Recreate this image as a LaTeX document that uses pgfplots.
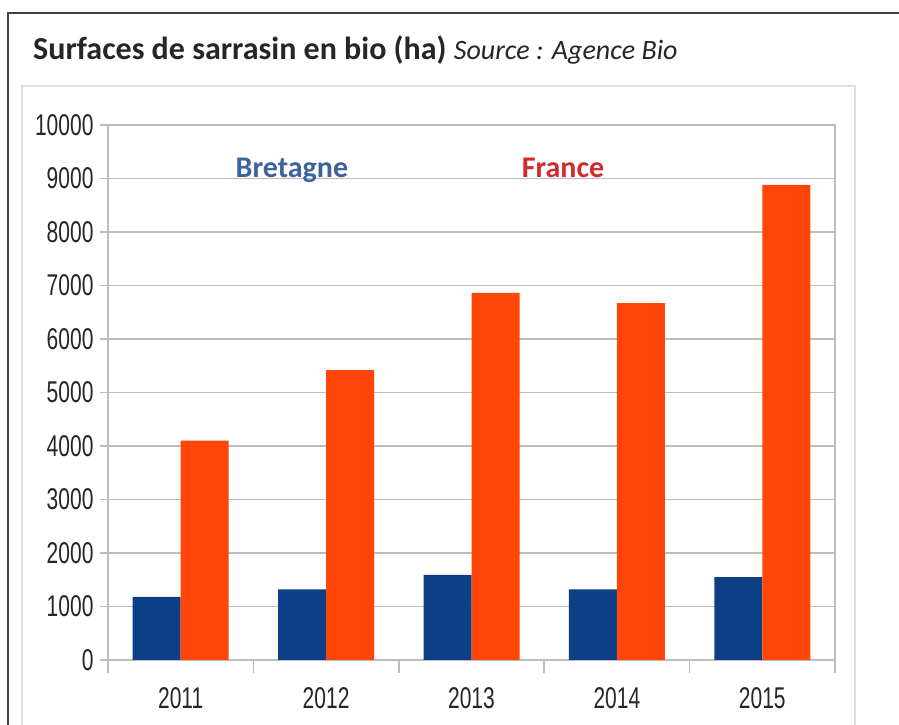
\documentclass[border=0pt]{standalone}
\usepackage{fontspec}
\setmainfont{Carlito}
\newfontfamily\tickfont[FakeStretch=0.70]{Liberation Sans}
\usepackage{pgfplots}
\pgfplotsset{compat=1.18}
\definecolor{barblue}{HTML}{0D3F87}
\definecolor{barorange}{HTML}{FF4508}
\definecolor{bretcol}{HTML}{3E639C}
\definecolor{francecol}{HTML}{D22B2E}
\definecolor{gridgray}{HTML}{BDBDBD}
\begin{document}
\begin{tikzpicture}[x=1pt,y=1pt]
\useasboundingbox (0,0) rectangle (899,725);
\fill[white] (0,0) rectangle (899,725);
\draw[line width=1.5pt, color=black!75] (8,-2) -- (8,712) -- (901,712);
\draw[line width=1.2pt, color=black!12] (22,-2) -- (22,639) -- (855,639) -- (855,-2);
\node[anchor=base west, inner sep=0, text=black!85] at (33,665) {\fontsize{32}{38}\selectfont\textbf{Surfaces de sarrasin en bio (ha)} \fontsize{28}{36}\selectfont\textit{Source : Agence Bio}};
\begin{axis}[
  at={(108pt,65pt)}, anchor=south west, scale only axis,
  width=727pt, height=535pt,
  xmin=-0.5, xmax=4.5, ymin=0, ymax=10000,
  ybar=0pt, bar width=48pt,
  xtick={0,1,2,3,4},
  xticklabels={2011,2012,2013,2014,2015},
  minor xtick={-0.5,0.5,1.5,2.5,3.5,4.5},
  ytick={0,1000,...,10000},
  scaled y ticks=false,
  /pgf/number format/set thousands separator={},
  /pgf/number format/assume math mode=true,
  ymajorgrids,
  grid style={line width=1.6pt, color=gridgray},
  axis line style={line width=1.6pt, color=gridgray},
  tick style={line width=1.6pt, color=gridgray},
  major x tick style={draw=none},
  tick align=outside,
  major tick length=8pt,
  minor tick length=13pt,
  xtick pos=bottom, ytick pos=left,
  ticklabel style={font=\tickfont\fontsize{30}{30}\selectfont, text=black!85},
  xticklabel style={yshift=-16pt},
  yticklabel style={xshift=-3pt},
]
\addplot[fill=barblue, draw=none] coordinates {(0,1180) (1,1320) (2,1590) (3,1320) (4,1550)};
\addplot[fill=barorange, draw=none] coordinates {(0,4100) (1,5420) (2,6860) (3,6670) (4,8880)};
\node[font=\bfseries\fontsize{30}{36}\selectfont, text=bretcol] at (axis cs:0.765,9160) {Bretagne};
\node[font=\bfseries\fontsize{30}{36}\selectfont, text=francecol] at (axis cs:2.629,9190) {France};
\end{axis}
\end{tikzpicture}
\end{document}
